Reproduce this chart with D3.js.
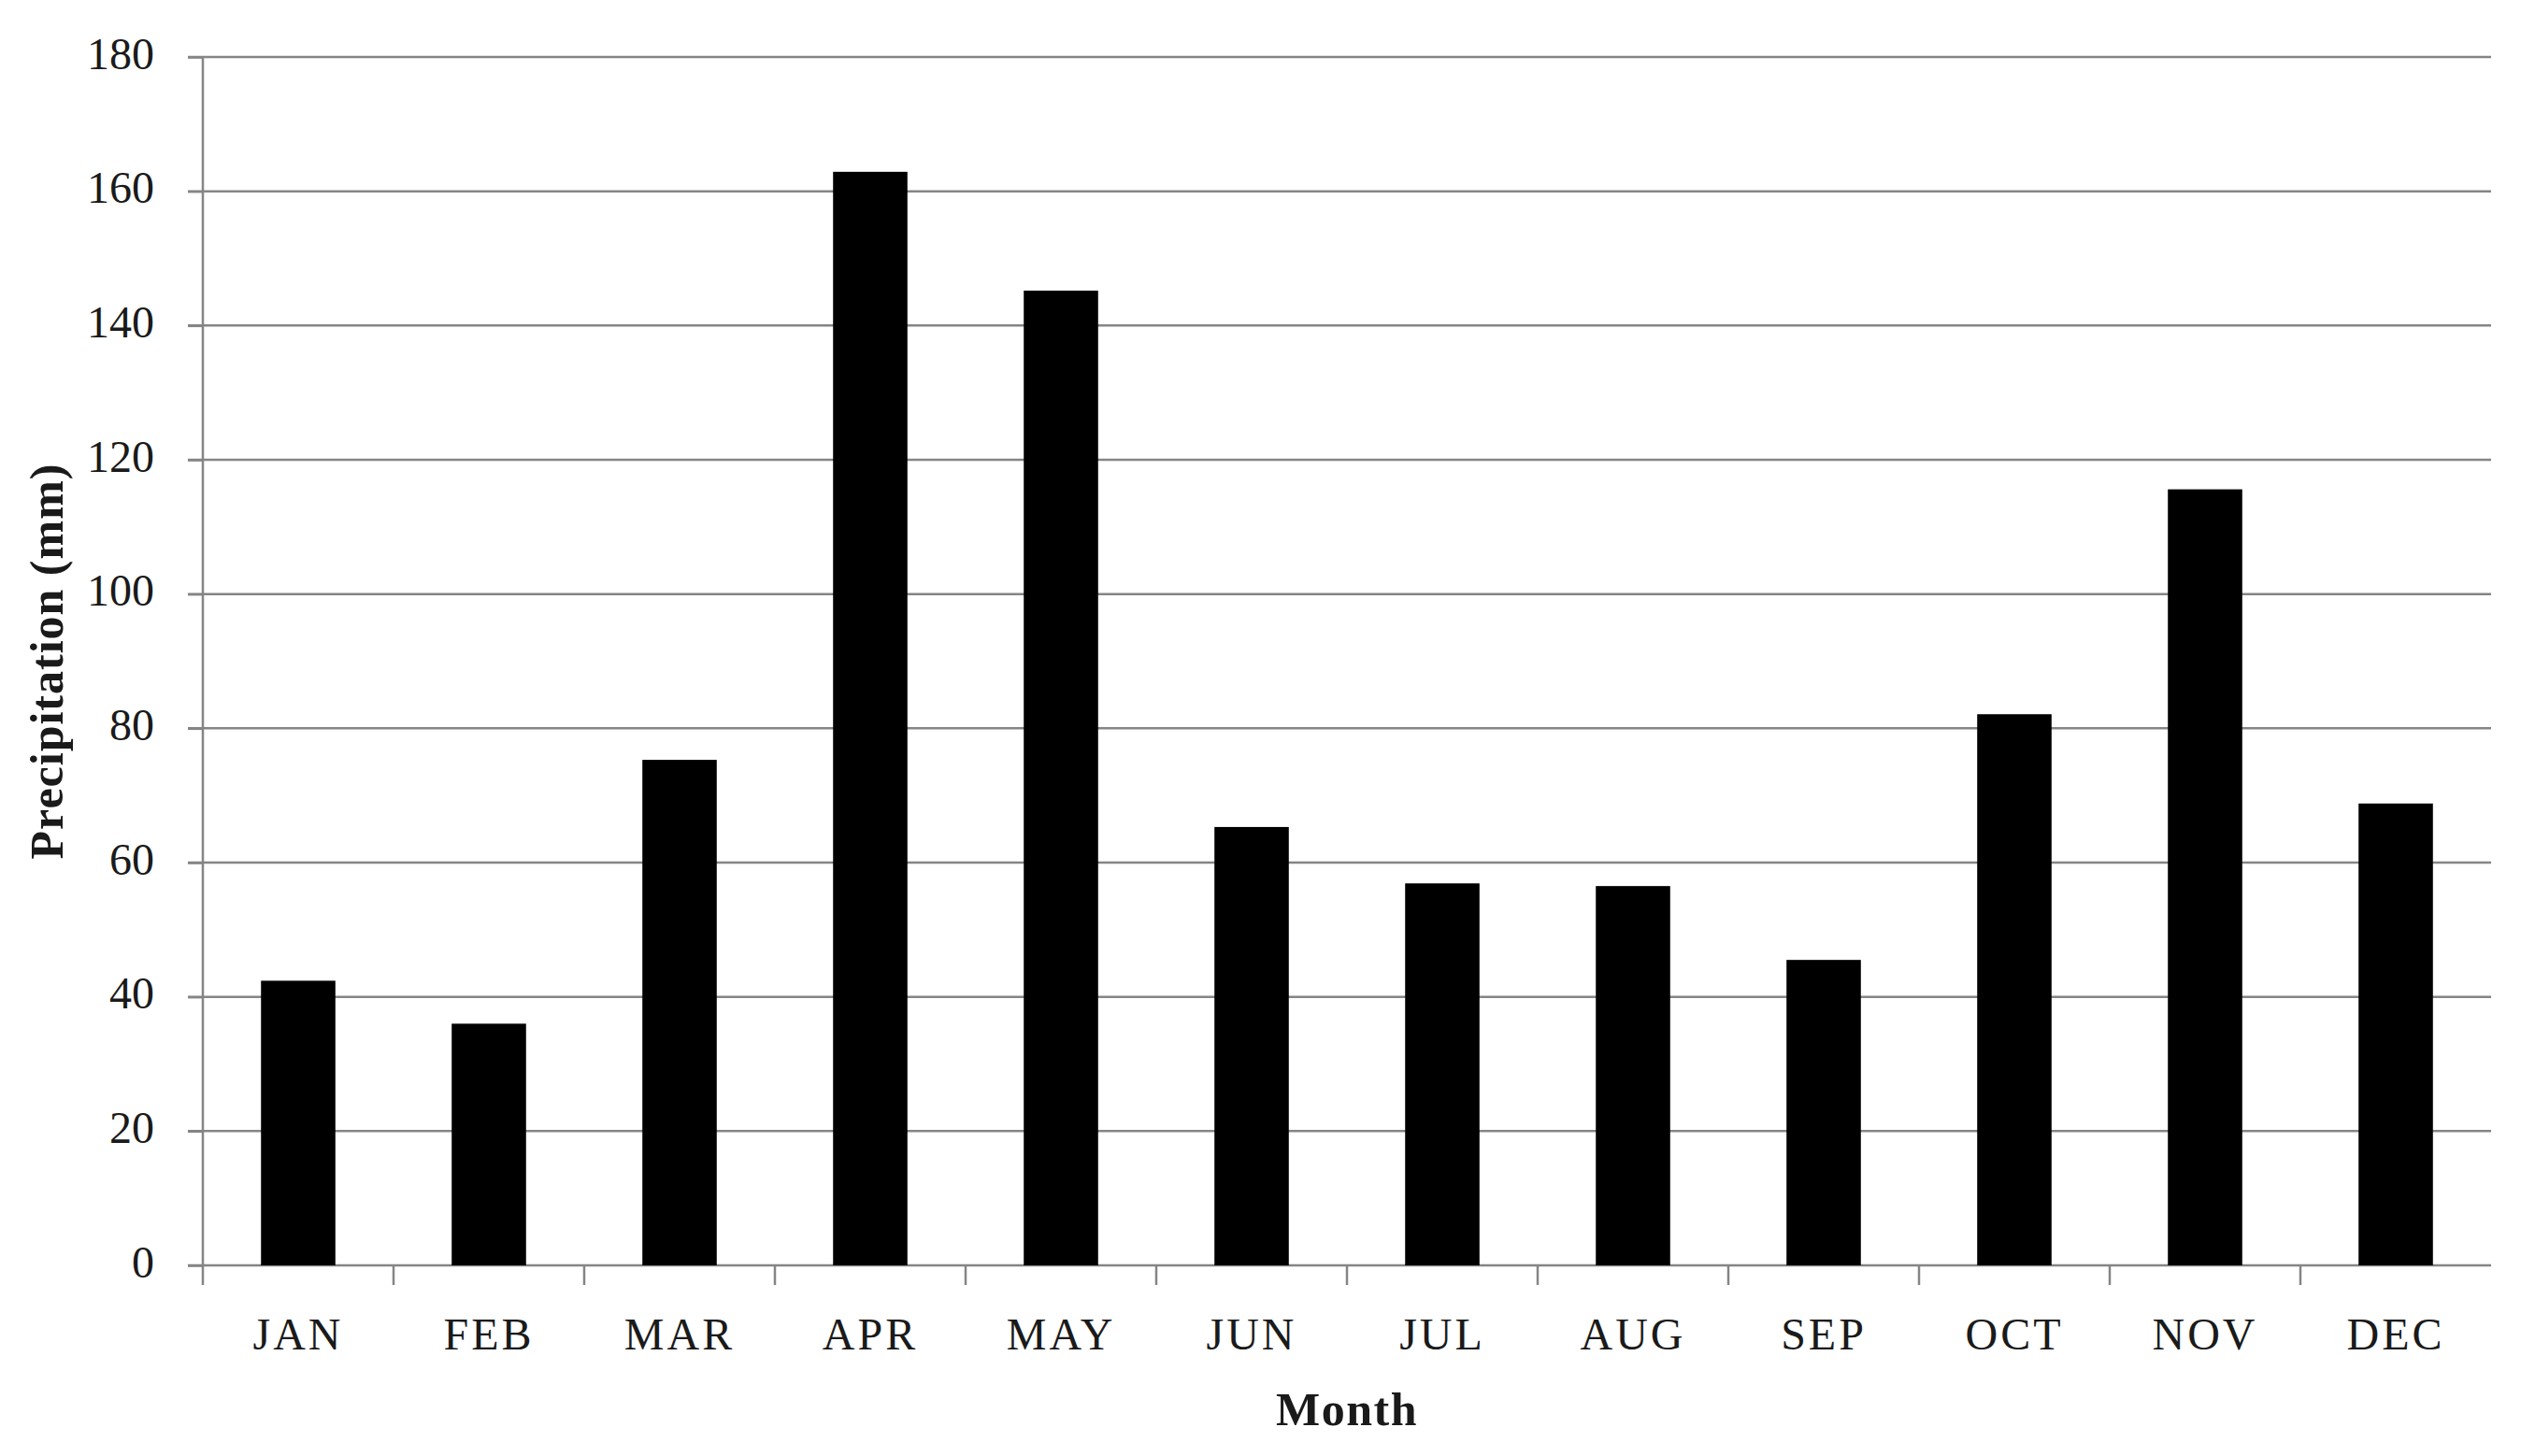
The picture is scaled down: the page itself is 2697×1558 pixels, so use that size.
<!DOCTYPE html>
<html>
<head>
<meta charset="utf-8">
<script src="https://cdn.jsdelivr.net/npm/d3@7"></script>
<style>
  body { margin: 0; background: #fff; }
  text { font-family: "Liberation Serif", "DejaVu Serif", serif; fill: #1a1a1a; }
</style>
</head>
<body>
<div id="chart"></div>
<script>
// Data
const months = ["JAN", "FEB", "MAR", "APR", "MAY", "JUN", "JUL", "AUG", "SEP", "OCT", "NOV", "DEC"];
const precipitation = [42.4, 36.0, 75.3, 162.9, 145.2, 65.3, 56.9, 56.5, 45.5, 82.1, 115.6, 68.8];
const yTicks = [0, 20, 40, 60, 80, 100, 120, 140, 160, 180];

let width = 2697,
    height = 1558;
let margin = {top: 61, right: 32, bottom: 204, left: 217};
let innerW = width - margin.left - margin.right,
    innerH = height - margin.top - margin.bottom;

// Scales
let x = d3.scaleBand()
    .domain(months)
    .range([0, innerW])
    .paddingInner(0.61)
    .paddingOuter(0.305);

let y = d3.scaleLinear()
    .domain([0, 180])
    .range([innerH, 0]);

let svg = d3.select("#chart").append("svg")
    .attr("width", width)
    .attr("height", height);

let g = svg.append("g")
    .attr("transform", `translate(${margin.left},${margin.top})`);

// gridlines (extend out to the tick)
g.append("g").selectAll("line")
    .data(yTicks)
    .enter().append("line")
    .attr("x1", -16)
    .attr("x2", innerW)
    .attr("y1", d => y(d))
    .attr("y2", d => y(d))
    .attr("stroke", "#858585")
    .attr("stroke-width", 2.5);

// bars
g.append("g").selectAll("rect")
    .data(precipitation)
    .enter().append("rect")
    .attr("x", (d, i) => x(months[i]))
    .attr("width", x.bandwidth())
    .attr("y", d => y(d))
    .attr("height", d => innerH - y(d))
    .attr("fill", "#000");

// y axis
let yAxis = g.append("g")
    .call(d3.axisLeft(y).tickValues(yTicks).tickSize(16).tickPadding(36));
yAxis.select(".domain").remove();
yAxis.selectAll(".tick line").attr("stroke", "#858585").attr("stroke-width", 2.5);
yAxis.selectAll("text")
    .attr("dy", "0.25em")
    .style("font-size", "48px");

g.append("line")
    .attr("x1", 0).attr("x2", 0)
    .attr("y1", 0).attr("y2", innerH + 21)
    .attr("stroke", "#858585")
    .attr("stroke-width", 2.5);

// x axis, labels centred under bars, ticks on the boundaries
let xAxis = g.append("g")
    .attr("transform", `translate(0,${innerH})`)
    .call(d3.axisBottom(x).tickSize(0).tickPadding(56));
xAxis.select(".domain").remove();
xAxis.selectAll("text")
    .style("font-size", "48px")
    .style("letter-spacing", "3px");

g.append("g").selectAll("line")
    .data(months.slice(1))
    .enter().append("line")
    .attr("x1", d => x(d) - x.step() * x.paddingInner() / 2)
    .attr("x2", d => x(d) - x.step() * x.paddingInner() / 2)
    .attr("y1", innerH)
    .attr("y2", innerH + 21)
    .attr("stroke", "#858585")
    .attr("stroke-width", 2.5);

// axis titles
svg.append("text")
    .attr("x", margin.left + innerW / 2)
    .attr("y", 1525)
    .attr("text-anchor", "middle")
    .style("font-size", "50px")
    .style("font-weight", "bold")
    .style("letter-spacing", "1.5px")
    .text("Month");

svg.append("text")
    .attr("transform", `translate(67,${margin.top + innerH / 2}) rotate(-90)`)
    .attr("text-anchor", "middle")
    .style("font-size", "50px")
    .style("font-weight", "bold")
    .style("letter-spacing", "1px")
    .text("Precipitation (mm)");
</script>
</body>
</html>
